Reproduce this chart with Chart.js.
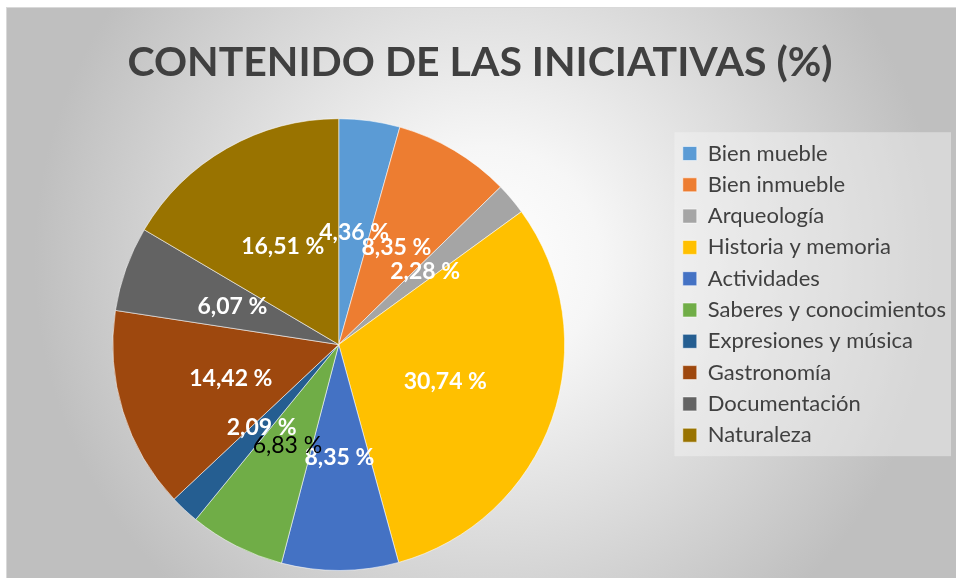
<!DOCTYPE html>
<html>
<head>
<meta charset="utf-8">
<script src="https://cdn.jsdelivr.net/npm/chart.js@4"></script>
<style>
    html, body { margin: 0; padding: 0; background: #fff; }
    #wrap { width: 956px; height: 578px; }
</style>
</head>
<body>
<div id="wrap"><canvas id="pieChart" width="956" height="578"></canvas></div>
<script>
// Datos del gráfico
const categories = [
    'Bien mueble', 'Bien inmueble', 'Arqueología', 'Historia y memoria', 'Actividades',
    'Saberes y conocimientos', 'Expresiones y música', 'Gastronomía', 'Documentación', 'Naturaleza'
];
const percentages = [4.36, 8.35, 2.28, 30.74, 8.35, 6.83, 2.09, 14.42, 6.07, 16.51];
const sliceColors = [
    '#5B9BD5', '#ED7D31', '#A5A5A5', '#FFC000', '#4472C4',
    '#70AD47', '#255E91', '#9E480E', '#636363', '#997300'
];
// la etiqueta de "Saberes y conocimientos" va en negro y sin negrita
const labelColors = ['#fff', '#fff', '#fff', '#fff', '#fff', '#000', '#fff', '#fff', '#fff', '#fff'];
const labelWeights = ['bold', 'bold', 'bold', 'bold', 'bold', 'normal', 'bold', 'bold', 'bold', 'bold'];

/**
 * Fondo: borde + degradado radial gris
 */
const backgroundPlugin = {
    id: 'fondo',
    beforeDraw(chart) {
        const ctx = chart.ctx;
        ctx.save();
        ctx.fillStyle = '#fff';
        ctx.fillRect(0, 0, chart.width, chart.height);
        const grad = ctx.createRadialGradient(487, 260, 0, 487, 260, 453);
        grad.addColorStop(0, '#ffffff');
        grad.addColorStop(0.25, '#f6f6f6');
        grad.addColorStop(1, '#bfbfbf');
        ctx.fillStyle = grad;
        ctx.fillRect(6, 7, chart.width, chart.height);
        ctx.strokeStyle = '#d9d9d9';
        ctx.lineWidth = 1;
        ctx.strokeRect(6.5, 7.5, chart.width, chart.height);

        // caja de la leyenda
        const lg = chart.legend;
        if (lg) {
            ctx.fillStyle = 'rgba(245,245,245,0.45)';
            ctx.fillRect(lg.left + 1, lg.top + 14, lg.width - 6, 324);
        }
        ctx.restore();
    }
};

/**
 * Etiquetas de porcentaje dentro de cada sector
 */
const sliceLabelPlugin = {
    id: 'etiquetas',
    afterDatasetsDraw(chart) {
        const ctx = chart.ctx;
        const meta = chart.getDatasetMeta(0);
        ctx.save();
        ctx.textAlign = 'center';
        ctx.textBaseline = 'middle';
        meta.data.forEach((arc, i) => {
            const pos = arc.tooltipPosition();
            ctx.font = labelWeights[i] + ' 23px Lato';
            ctx.fillStyle = labelColors[i];
            ctx.fillText(percentages[i].toFixed(2).replace('.', ',') + ' %', pos.x, pos.y);
        });
        ctx.restore();
    }
};

let pieChart = new Chart(document.getElementById('pieChart'), {
    type: 'pie',
    data: {
        labels: categories,
        datasets: [{
            data: percentages,
            backgroundColor: sliceColors,
            borderColor: 'rgba(255,255,255,0.55)',
            borderWidth: 1,
        }]
    },
    options: {
        responsive: false,
        animation: false,
        layout: {
            padding: { left: 4, right: 0, top: 0, bottom: 7 }
        },
        plugins: {
            title: {
                display: true,
                text: 'CONTENIDO DE LAS INICIATIVAS (%)',
                color: '#404040',
                font: { family: 'Lato', size: 41, weight: 'bold' },
                padding: { top: 38, bottom: 31 }
            },
            legend: {
                position: 'right',
                align: 'start',
                fullSize: false,
                title: {
                    display: true,
                    text: '',
                    font: { size: 10 },
                    padding: { top: 1, bottom: 2 }
                },
                labels: {
                    boxWidth: 14,
                    boxHeight: 14,
                    padding: 9.3,
                    color: '#404040',
                    font: { family: 'Lato', size: 22 }
                }
            },
            tooltip: { enabled: false }
        }
    },
    plugins: [backgroundPlugin, sliceLabelPlugin]
});
</script>
</body>
</html>
